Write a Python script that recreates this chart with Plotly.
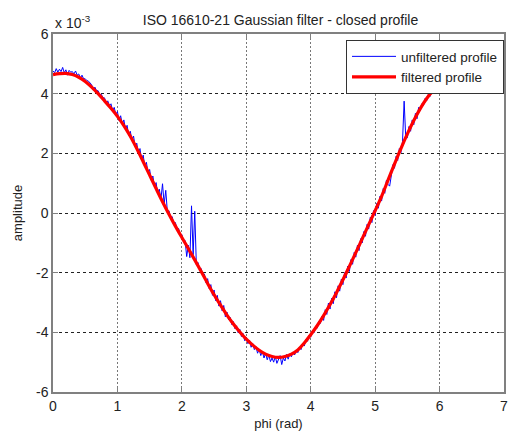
import numpy as np
import plotly.graph_objects as go

# Raw (unfiltered) roundness profile, amplitude in units of 1e-3, sampled every 0.025 rad
raw_step = 0.025
unfiltered = [
    4.76, 4.70, 4.84, 4.72, 4.82, 4.74, 4.88, 4.70, 4.80, 4.62, 4.78, 4.72,
    4.74, 4.66, 4.76, 4.62, 4.66, 4.52, 4.62, 4.50, 4.50, 4.44, 4.42, 4.36,
    4.30, 4.12, 4.22, 4.10, 4.10, 3.96, 3.98, 3.86, 3.86, 3.68, 3.76, 3.60,
    3.66, 3.42, 3.54, 3.30, 3.40, 3.10, 3.26, 2.98, 3.12, 2.80, 2.94, 2.60,
    2.74, 2.44, 2.58, 2.22, 2.34, 2.00, 2.16, 1.78, 1.94, 1.56, 1.70, 1.34,
    1.46, 1.10, 1.24, 0.88, 1.02, 0.66, 0.80, 0.46, 0.98, 0.30, 0.76, 0.04,
    0.08, -0.16, -0.12, -0.38, -0.32, -0.56, -0.52, -0.76, -0.72, -0.96, -0.92, -1.46,
    -1.08, -1.50, 0.24, -1.40, 0.06, -1.74, -1.66, -1.90, -1.86, -2.10, -2.04, -2.34,
    -2.20, -2.54, -2.40, -2.76, -2.58, -2.94, -2.76, -3.12, -2.94, -3.28, -3.10, -3.48,
    -3.32, -3.58, -3.50, -3.74, -3.64, -3.88, -3.78, -4.02, -3.90, -4.14, -4.04, -4.28,
    -4.16, -4.38, -4.26, -4.50, -4.38, -4.58, -4.48, -4.70, -4.56, -4.78, -4.64, -4.86,
    -4.70, -4.92, -4.76, -4.98, -4.86, -5.00, -4.80, -5.04, -4.92, -4.78, -5.08, -4.86,
    -4.96, -4.74, -4.90, -4.72, -4.82, -4.66, -4.76, -4.60, -4.68, -4.50, -4.58, -4.36,
    -4.46, -4.24, -4.30, -4.10, -4.16, -3.96, -4.02, -3.80, -3.86, -3.64, -3.70, -3.46,
    -3.60, -3.24, -3.40, -3.02, -3.22, -2.86, -3.04, -2.64, -2.84, -2.44, -2.62, -2.22,
    -2.40, -2.00, -2.18, -1.78, -1.96, -1.56, -1.72, -1.32, -1.48, -1.08, -1.26, -0.86,
    -1.00, -0.62, -0.78, -0.38, -0.54, -0.14, -0.32, 0.08, -0.08, 0.32, 0.16, 0.56,
    0.40, 0.82, 0.66, 1.10, 0.96, 0.90, 1.24, 1.62, 1.50, 1.90, 1.76, 2.16,
    2.02, 2.40, 3.75, 2.52, 2.52, 2.90, 2.74, 3.12, 2.96, 3.34, 3.16, 3.54,
    3.42, 3.66, 3.60, 3.84, 3.76, 3.98, 3.90, 4.12, 4.02, 4.22, 4.14, 4.34,
    4.24, 4.44, 4.32, 4.52, 4.40, 4.58, 4.46, 4.64, 4.52, 4.68, 4.58, 4.70,
]
phi_raw = np.round(np.arange(len(unfiltered)) * raw_step, 3)

# Gaussian-filtered profile (mean line), amplitude in units of 1e-3
phi_filt = [
    0.0, 0.1, 0.2, 0.3, 0.4, 0.5, 0.6, 0.7, 0.8, 0.9,
    1.0, 1.1, 1.2, 1.3, 1.4, 1.5, 1.6, 1.7, 1.8, 1.9,
    2.0, 2.1, 2.2, 2.3, 2.4, 2.5, 2.6, 2.7, 2.8, 2.9,
    3.0, 3.1, 3.2, 3.3, 3.4, 3.5, 3.6, 3.7, 3.8, 3.9,
    4.0, 4.1, 4.2, 4.3, 4.4, 4.5, 4.6, 4.7, 4.8, 4.9,
    5.0, 5.1, 5.2, 5.3, 5.4, 5.5, 5.6, 5.7, 5.8, 5.9,
    6.0, 6.1, 6.2, 6.2832,
]
filtered = [
    4.64, 4.67, 4.68, 4.64, 4.55, 4.41, 4.22, 4.00, 3.76, 3.51,
    3.24, 2.93, 2.57, 2.16, 1.72, 1.27, 0.82, 0.38, -0.04, -0.44,
    -0.82, -1.19, -1.57, -1.96, -2.36, -2.74, -3.09, -3.42, -3.72, -3.99,
    -4.23, -4.43, -4.60, -4.73, -4.81, -4.84, -4.81, -4.73, -4.59, -4.36,
    -4.08, -3.78, -3.44, -3.07, -2.67, -2.24, -1.79, -1.33, -0.86, -0.39,
    0.08, 0.56, 1.10, 1.64, 2.16, 2.65, 3.10, 3.50, 3.84, 4.10,
    4.31, 4.47, 4.58, 4.64,
]

x_ticks = [0, 1, 2, 3, 4, 5, 6, 7]
y_ticks = [-6, -4, -2, 0, 2, 4, 6]

FONT = "Liberation Sans, Arial, sans-serif"

fig = go.Figure()
fig.add_trace(go.Scatter(
    x=phi_raw, y=unfiltered, mode="lines", name="unfiltered profile",
    line=dict(color="#0000ff", width=1),
))
fig.add_trace(go.Scatter(
    x=phi_filt, y=filtered, mode="lines", name="filtered profile",
    line=dict(color="#ff0000", width=3.2, shape="spline"),
))

axis_common = dict(
    showline=True, mirror="ticks", linecolor="#808080", linewidth=1.5,
    ticks="inside", ticklen=5, tickcolor="#808080",
    tickfont=dict(family=FONT, size=14, color="#222"),
    zeroline=False, showgrid=True,
)
fig.update_xaxes(
    range=[0, 7], tickvals=x_ticks, ticktext=[str(v) for v in x_ticks],
    gridcolor="#777", griddash="2px,2px", gridwidth=1,
    title=dict(text="phi (rad)", font=dict(family=FONT, size=13, color="#222"), standoff=6),
    **axis_common,
)
fig.update_yaxes(
    range=[-6, 6], tickvals=y_ticks, ticktext=[str(v) for v in y_ticks],
    gridcolor="#222", griddash="3px,3px", gridwidth=1,
    title=dict(text="amplitude", font=dict(family=FONT, size=13, color="#222"), standoff=10),
    **axis_common,
)

fig.update_layout(
    width=511, height=432,
    margin=dict(l=53, r=3, t=34, b=37),
    paper_bgcolor="white", plot_bgcolor="white",
    title=dict(
        text="ISO 16610-21 Gaussian filter - closed profile",
        font=dict(family=FONT, size=14, color="#222"),
        x=(53 + 455 / 2) / 511, xanchor="center", y=1 - 20 / 432, yanchor="middle",
    ),
    legend=dict(
        x=1.0, y=0.983, xanchor="right", yanchor="top",
        bgcolor="white", bordercolor="#333", borderwidth=1,
        font=dict(family=FONT, size=13.5, color="#222"),
        itemwidth=44, tracegroupgap=0,
    ),
    annotations=[dict(
        text="x 10<sup>-3</sup>", xref="paper", yref="paper", x=0, y=1,
        xanchor="left", yanchor="bottom", yshift=1, showarrow=False,
        font=dict(family=FONT, size=14, color="#222"),
    )],
    showlegend=True,
)

fig.write_html("out.html")
